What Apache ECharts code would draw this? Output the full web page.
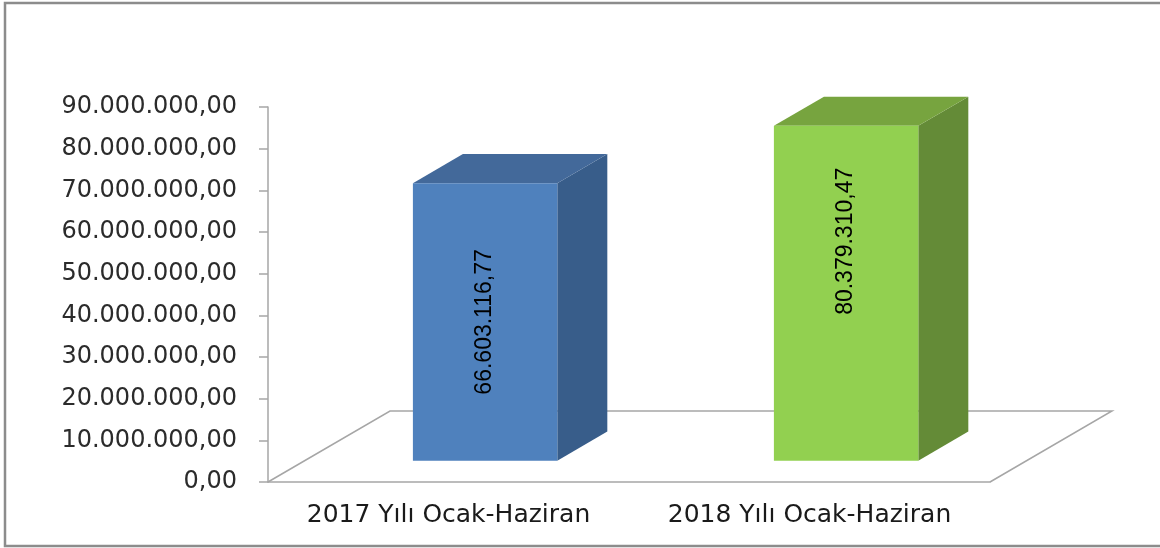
<!DOCTYPE html>
<html style="height: 100%">
<head>
    <meta charset="UTF-8">
</head>
<body style="height: 100%; margin: 0; background: #fff">
    <div id="container" style="width: 1160px; height: 548px;"></div>
    <script type="text/javascript" src="https://cdn.jsdelivr.net/npm/echarts@6.0.0/dist/echarts.min.js"></script>
    <script type="text/javascript">
        // veriler
        var categories = ['2017 Yılı Ocak-Haziran', '2018 Yılı Ocak-Haziran'];
        var values = [66603116.77, 80379310.47];
        var yMin = 0;
        var yMax = 90000000;
        var yStep = 10000000;

        // stil
        var frontColors = ['#4f81bd', '#92d050'];
        var topColors = ['#43699a', '#77a43f'];
        var sideColors = ['#385d8a', '#648b37'];
        var labelPos = [0.5, 0.655];   // etiketin çubuk yüksekliğine göre konumu
        var FLOOR_DX = 122, FLOOR_DY = -71;  // zemin derinliği (px)
        var BAR_FRONT = 0.3, BAR_DEPTH = 0.41, BAR_WIDTH = 0.4;

        // 66603116.77 -> "66.603.116,77"
        function trFormat(v) {
            var parts = v.toFixed(2).split('.');
            var intPart = parts[0].replace(/\B(?=(\d{3})+(?!\d))/g, '.');
            return intPart + ',' + parts[1];
        }

        var barData = [];
        for (var i = 0; i < values.length; i++) {
            barData.push([i, values[i]]);
        }

        function renderFloor(params, api) {
            var first = api.coord([0, yMin]);
            var last = api.coord([categories.length - 1, yMin]);
            var half = api.size([1, 0])[0] / 2;
            var l = first[0] - half, r = last[0] + half, y = first[1];
            return {
                type: 'polyline',
                shape: {
                    points: [[l, y], [l + FLOOR_DX, y + FLOOR_DY], [r + FLOOR_DX, y + FLOOR_DY], [r, y]]
                },
                style: { stroke: '#a6a6a6', lineWidth: 1.5, fill: null }
            };
        }

        function renderBar(params, api) {
            var idx = api.value(0);
            var base = api.coord([idx, yMin]);
            var top = api.coord([idx, api.value(1)]);
            var bw = api.size([1, 0])[0] * BAR_WIDTH;
            var ox = FLOOR_DX * BAR_FRONT, oy = FLOOR_DY * BAR_FRONT;
            var dx = FLOOR_DX * BAR_DEPTH, dy = FLOOR_DY * BAR_DEPTH;
            var x0 = base[0] - bw / 2 + ox, x1 = base[0] + bw / 2 + ox;
            var yb = base[1] + oy, yt = top[1] + oy;
            var ly = yb - (yb - yt) * labelPos[idx];
            return {
                type: 'group',
                children: [
                    {
                        type: 'polygon',
                        shape: { points: [[x1, yt], [x1 + dx, yt + dy], [x1 + dx, yb + dy], [x1, yb]] },
                        style: { fill: sideColors[idx] }
                    },
                    {
                        type: 'polygon',
                        shape: { points: [[x0, yt], [x0 + dx, yt + dy], [x1 + dx, yt + dy], [x1, yt]] },
                        style: { fill: topColors[idx] }
                    },
                    {
                        type: 'rect',
                        shape: { x: x0, y: yt, width: bw, height: yb - yt },
                        style: { fill: frontColors[idx] }
                    },
                    {
                        type: 'text',
                        x: (x0 + x1) / 2,
                        y: ly,
                        rotation: Math.PI / 2,
                        style: {
                            text: trFormat(values[idx]),
                            font: '23px "Liberation Sans"',
                            fill: '#000',
                            align: 'center',
                            verticalAlign: 'middle'
                        }
                    }
                ]
            };
        }

        var dom = document.getElementById('container');
        var myChart = echarts.init(dom);
        var option = {
            animation: false,
            graphic: [{
                type: 'polyline',
                shape: { points: [[1300, 3], [5, 3], [5, 546], [1300, 546]] },
                style: { fill: null, stroke: '#8c8c8c', lineWidth: 2.5 }
            }],
            grid: { left: 268, right: 170, top: 107, bottom: 66 },
            xAxis: {
                type: 'category',
                data: categories,
                axisLine: { lineStyle: { color: '#a6a6a6', width: 1.5 } },
                axisTick: { length: 8, lineStyle: { color: '#a6a6a6', width: 1.5 } },
                axisLabel: {
                    interval: 0,
                    hideOverlap: false,
                    margin: 21,
                    fontSize: 25,
                    fontFamily: 'DejaVu Sans',
                    color: '#1a1a1a'
                }
            },
            yAxis: {
                type: 'value',
                min: yMin,
                max: yMax,
                interval: yStep,
                splitLine: { show: false },
                axisLine: { show: true, lineStyle: { color: '#a6a6a6', width: 1.5 } },
                axisTick: { show: true, length: 9, lineStyle: { color: '#a6a6a6', width: 1.5 } },
                axisLabel: {
                    margin: 31,
                    fontSize: 24,
                    fontFamily: 'DejaVu Sans',
                    color: '#2b2b2b',
                    formatter: function (v) { return trFormat(v); }
                }
            },
            series: [
                {
                    type: 'custom',
                    z: 1,
                    data: [[0, 0]],
                    renderItem: renderFloor,
                    silent: true
                },
                {
                    type: 'custom',
                    z: 2,
                    data: barData,
                    encode: { x: 0, y: 1 },
                    renderItem: renderBar
                }
            ]
        };
        myChart.setOption(option);
    </script>
</body>
</html>
